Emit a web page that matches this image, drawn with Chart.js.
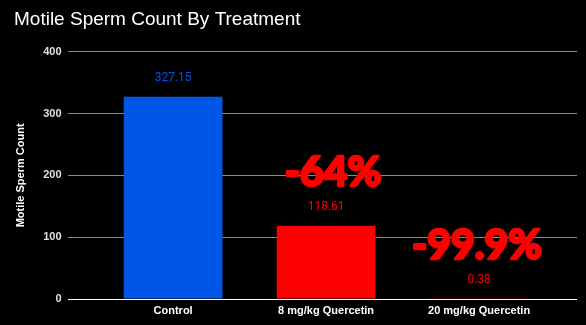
<!DOCTYPE html>
<html>
<head>
<meta charset="utf-8">
<script src="https://cdn.jsdelivr.net/npm/chart.js@4"></script>
<style>
  html, body { margin: 0; padding: 0; background: #000; }
  #wrap { width: 586px; height: 325px; }
</style>
</head>
<body>
<div id="wrap"><canvas id="spermChart"></canvas></div>
<script>
// treatment groups and motile sperm counts
const categories = ['Control', '8 mg/kg Quercetin', '20 mg/kg Quercetin'];
const counts = [327.15, 118.61, 0.38];
const barColors = ['#0057e6', '#ff0000', '#ff0000'];
const yTicks = [0, 100, 200, 300, 400];

const ARIAL = "'Liberation Sans', Arial, sans-serif";

// value over each bar, plus the big change-vs-control figure
const barLabels = {
    id: 'barLabels',
    afterDatasetsDraw(chart) {
        const { ctx } = chart;
        const meta = chart.getDatasetMeta(0);
        const base = counts[0];
        const nudge = [0, 7, -2];
        ctx.save();
        ctx.textAlign = 'center';
        ctx.textBaseline = 'middle';
        meta.data.forEach((bar, i) => {
            const y = bar.y - 19;
            ctx.fillStyle = barColors[i];
            ctx.font = "12px Roboto, sans-serif";
            ctx.fillText(counts[i].toFixed(2), bar.x, y);
            if (i > 0) {
                const pct = (counts[i] - base) / base * 100;
                const txt = (Math.abs(pct) > 99 ? pct.toFixed(1) : pct.toFixed(0)) + '%';
                ctx.font = "900 41px Lato, sans-serif";
                ctx.strokeStyle = barColors[i];
                ctx.lineWidth = 2.5;
                ctx.lineJoin = 'round';
                ctx.strokeText(txt, bar.x + nudge[i], y - 34);
                ctx.fillText(txt, bar.x + nudge[i], y - 34);
            }
        });
        ctx.restore();
    }
};

const chart = new Chart(document.getElementById('spermChart'), {
    type: 'bar',
    data: {
        datasets: [{
            data: categories.map((c, i) => ({ x: i, y: counts[i] })),
            backgroundColor: barColors,
            borderWidth: 0,
            barPercentage: 0.645,
            categoryPercentage: 1
        }]
    },
    options: {
        responsive: true,
        maintainAspectRatio: false,
        animation: false,
        layout: { padding: { left: 14, right: 9, top: 0, bottom: 3 } },
        plugins: {
            legend: { display: false },
            tooltip: { enabled: false },
            title: {
                display: true,
                text: 'Motile Sperm Count By Treatment',
                align: 'start',
                color: '#ffffff',
                font: { family: ARIAL, size: 19, weight: 'normal' },
                padding: { top: 8, bottom: 21 }
            }
        },
        scales: {
            x: {
                type: 'linear',
                offset: false,
                min: -0.69,
                max: 2.64,
                afterBuildTicks: (scale) => { scale.ticks = categories.map((c, i) => ({ value: i })); },
                ticks: {
                    color: '#ffffff',
                    font: { family: ARIAL, size: 11, weight: 'bold', lineHeight: 1 },
                    padding: 6,
                    callback: (v) => categories[v]
                },
                grid: { display: false, drawTicks: false, offset: false },
                border: { display: false }
            },
            y: {
                min: 0,
                max: 400,
                afterBuildTicks: (scale) => { scale.ticks = yTicks.map(v => ({ value: v })); },
                ticks: {
                    color: '#e0e0e0',
                    font: { family: ARIAL, size: 11, weight: 'bold' },
                    padding: 6
                },
                grid: {
                    drawTicks: false,
                    color: (c) => c.tick && c.tick.value === 0 ? '#ffffff' : '#8a8a8a',
                    lineWidth: 1
                },
                border: { display: false },
                title: {
                    display: true,
                    text: 'Motile Sperm Count',
                    color: '#ffffff',
                    font: { family: ARIAL, size: 11, weight: 'bold' },
                    padding: { top: 0, bottom: 10 }
                }
            }
        }
    },
    plugins: [barLabels]
});
</script>
</body>
</html>
